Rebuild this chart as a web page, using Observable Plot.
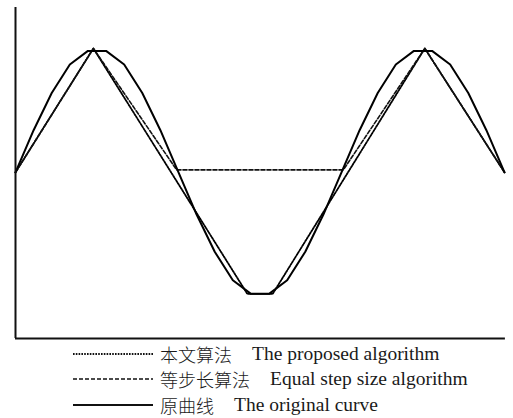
<!DOCTYPE html>
<html>
<head>
<meta charset="utf-8">
<script src="https://cdn.jsdelivr.net/npm/d3@7"></script>
<script src="https://cdn.jsdelivr.net/npm/@observablehq/plot@0.6"></script>
<style>
  html, body { margin: 0; padding: 0; background: #fff; }
  #chart svg { display: block; }
  .legend { position: relative; font-family: "Liberation Serif", "Times New Roman", "Noto Sans CJK SC", serif; font-size: 19.5px; color: #1a1a1a; }
  .row { height: 25.5px; display: flex; align-items: center; }
  .row svg { margin-left: 73px; margin-right: 7px; flex: none; }
  .row span { white-space: pre; }
  .zh { font-family: "Noto Sans CJK SC", sans-serif; font-size: 18px; font-weight: 300; }
  .en { margin-left: 20px; }
</style>
</head>
<body>
<div id="chart"></div>
<div class="legend" id="legend"></div>
<script>
// Sample index along the horizontal axis (0 .. 27), original curve values
const originalX = [0,1,2,3,4,5,6,7,8,9,10,11,12,13,14,15,16,17,18,19,20,21,22,23,24,25,26,27];
const originalY = [0,0.34,0.64,0.87,0.98,0.98,0.87,0.64,0.34,0,-0.34,-0.64,-0.87,-0.98,-0.98,-0.87,-0.64,-0.34,0,0.34,0.64,0.87,0.98,0.98,0.87,0.64,0.34,0];
// Proposed algorithm (dotted)
const proposedX = [0,4.3,12.8,14.2,22.6,27];
const proposedY = [0,1,-0.98,-0.98,1,0];
// Equal step size algorithm (dashed)
const equalX = [0,4.3,8.9,18.1,22.6,27];
const equalY = [0,1,0.02,0.02,1,0];
const labelsZh = ["本文算法", "等步长算法", "原曲线"];
const labelsEn = ["The proposed algorithm", "Equal step size algorithm", "The original curve"];
const dashes = ["1.6,1.2", "4,2", null];
const widths = [1.8, 1.6, 2];

const yMin = -1.34, yMax = 1.33;
const orig = originalX.map((x, i) => ({x, y: originalY[i]}));
const prop = proposedX.map((x, i) => ({x, y: proposedY[i]}));
const eq = equalX.map((x, i) => ({x, y: equalY[i]}));

const plot = Plot.plot({
  width: 513,
  height: 341,
  marginLeft: 15,
  marginRight: 9,
  marginTop: 7,
  marginBottom: 3,
  x: {domain: [0, 27], axis: null},
  y: {domain: [yMin, yMax], axis: null},
  marks: [
    Plot.line(prop, {x: "x", y: "y", stroke: "#000", strokeWidth: widths[0], strokeDasharray: dashes[0]}),
    Plot.line(eq, {x: "x", y: "y", stroke: "#111", strokeWidth: widths[1], strokeDasharray: dashes[1]}),
    Plot.line(orig, {x: "x", y: "y", stroke: "#000", strokeWidth: widths[2], strokeLinejoin: "round"}),
    Plot.ruleX([0], {y1: yMin, y2: yMax, stroke: "#111", strokeWidth: 2}),
    Plot.ruleY([yMin], {x1: 0, x2: 27.05, stroke: "#111", strokeWidth: 2})
  ]
});
document.getElementById("chart").appendChild(plot);

const legend = document.getElementById("legend");
labelsZh.forEach((zh, i) => {
  const row = document.createElement("div");
  row.className = "row";
  const svg = d3.create("svg").attr("width", 80).attr("height", 6);
  svg.append("line").attr("x1", 0).attr("x2", 80).attr("y1", 3).attr("y2", 3)
    .attr("stroke", "#111").attr("stroke-width", widths[i])
    .attr("stroke-dasharray", dashes[i]);
  row.appendChild(svg.node());
  const z = document.createElement("span");
  z.className = "zh";
  z.textContent = zh;
  row.appendChild(z);
  const e = document.createElement("span");
  e.className = "en";
  e.textContent = labelsEn[i];
  row.appendChild(e);
  legend.appendChild(row);
});
</script>
</body>
</html>
